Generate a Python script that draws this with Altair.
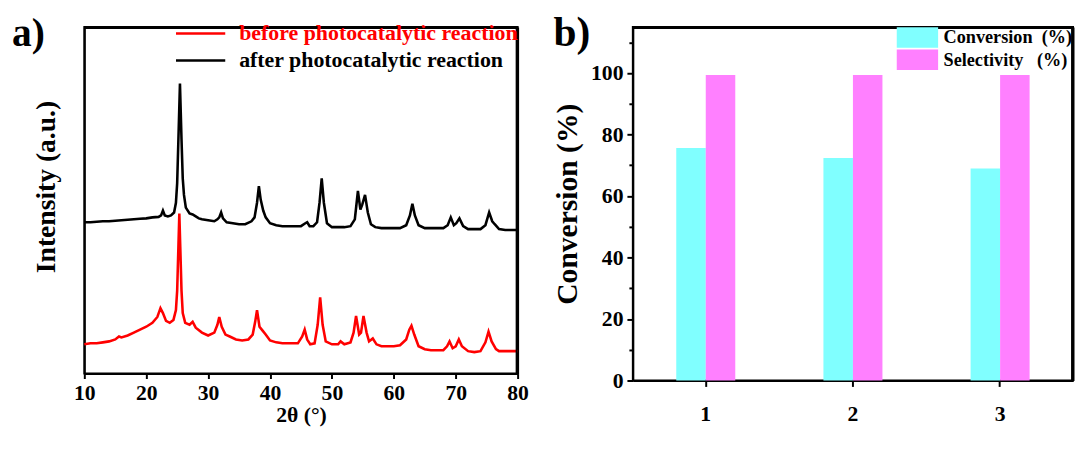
import altair as alt
import pandas as pd

FONT = "Liberation Serif"

# ---------------- panel a: XRD patterns ----------------
series_names = ["before photocatalytic reaction", "after photocatalytic reaction"]
series_colors = ["#ff0000", "#000000"]

before_theta = [10, 11, 12, 13, 14, 15, 15.6, 16, 17, 18, 19, 20, 21, 21.8, 22.3, 22.7, 23.2, 23.8,
                24.4, 24.8, 25.0, 25.2, 25.35, 25.5, 25.7, 25.9, 26.3, 27.0, 27.5, 28.0, 29.0, 30.0,
                31.0, 31.5, 31.8, 32.2, 32.8, 33.5, 34.5, 35.5, 36.5, 37.2, 37.6, 37.9, 38.3, 38.8,
                39.3, 40, 41, 42, 43, 44.5, 45.2, 45.6, 46.0, 46.5, 47.2, 47.7, 48.1, 48.5, 49.0, 50,
                51, 51.4, 52, 53, 53.5, 53.9, 54.4, 54.7, 55.1, 55.6, 56.0, 56.6, 57.2, 58, 59, 60, 61,
                62, 62.5, 62.85, 63.3, 64, 65, 66, 67, 68, 68.6, 69.0, 69.5, 70.0, 70.5, 71.0, 72, 73,
                74, 74.8, 75.3, 75.8, 76.5, 77, 78, 79, 80]
before_intensity = [30, 31, 31, 32, 33, 35, 38, 37, 39, 42, 45, 48, 52, 58, 67, 62, 54, 52,
                    55, 65, 85, 130, 164, 130, 85, 62, 52, 50, 53, 47, 42, 39,
                    42, 50, 58, 48, 40, 38, 35, 34, 35, 40, 53, 65, 48, 44,
                    40, 34, 32, 31, 31, 31, 38, 45, 35, 30, 31, 50, 78, 50, 33, 30,
                    30, 33, 30, 32, 42, 59, 40, 42, 59, 42, 33, 36, 30, 28, 28, 28, 29,
                    35, 45, 49, 40, 28, 25, 24, 24, 24, 28, 33, 26, 28, 35, 28, 23, 22,
                    23, 32, 43, 33, 25, 23, 23, 23, 23]

after_theta = [10, 11, 12, 13, 14, 15, 16, 17, 18, 19, 20, 21, 22, 22.4, 22.7, 23.0, 23.5, 24.0,
               24.5, 24.8, 25.0, 25.2, 25.45, 25.7, 25.9, 26.1, 26.4, 27.0, 27.5, 28.0, 28.5, 29.0,
               30.0, 31.0, 31.5, 31.8, 32.1, 32.4, 33, 34, 35, 36, 37, 37.5, 37.9, 38.2, 38.5, 38.9,
               39.3, 40, 41, 42, 43, 44, 45, 45.7, 46.0, 46.4, 47, 47.6, 48.0, 48.35, 48.7, 49.2,
               50, 51, 52, 53, 53.7, 54.2, 54.6, 54.9, 55.35, 55.8, 56.3, 57, 58, 59, 60, 61, 62,
               62.6, 63.0, 63.4, 64, 65, 66, 67, 68, 68.7, 69.2, 69.7, 70.1, 70.6, 71.2, 72, 73, 74,
               74.8, 75.4, 75.9, 76.3, 77, 78, 79, 80]
after_intensity = [155, 155, 155.5, 156, 156, 156.5, 157, 157.5, 158, 158.5, 159, 160, 160.5, 162, 167, 162, 161, 162,
                   165, 175, 195, 240, 297, 240, 200, 183, 170, 164, 163, 161, 159, 158,
                   157, 156, 158, 160, 165, 159, 155, 154, 153, 153, 156, 160, 175, 192, 178, 167,
                   160, 154, 152, 151, 151, 151, 151, 154, 155, 151, 151, 155, 175, 200, 175, 154,
                   150, 150, 150, 151, 158, 187, 168, 173, 183, 165, 153, 150, 149, 149, 149, 149, 152,
                   162, 174, 162, 152, 149, 149, 149, 149, 152, 160, 152, 154, 159, 151, 148, 148, 148,
                   152, 165, 156, 153, 148, 147, 147, 147]

# ---------------- panel b: conversion / selectivity ----------------
runs = ["1", "2", "3"]
conversion = [75.6, 72.4, 69.0]
selectivity = [99.4, 99.4, 99.4]
bar_names = ["Conversion", "Selectivity"]
bar_colors = ["#80ffff", "#ff80ff"]

xrd = pd.concat([
    pd.DataFrame({"theta": before_theta, "intensity": before_intensity, "sample": series_names[0]}),
    pd.DataFrame({"theta": after_theta, "intensity": after_intensity, "sample": series_names[1]}),
], ignore_index=True)

bars = pd.concat([
    pd.DataFrame({"run": runs, "value": conversion, "series": bar_names[0]}),
    pd.DataFrame({"run": runs, "value": selectivity, "series": bar_names[1]}),
], ignore_index=True)

WA, HA = 440, 352
WB, HB = 447, 359

one_row = pd.DataFrame({"k": [0]})
edge = dict(labels=False, ticks=False, title=None, domain=True, domainColor="black", domainWidth=2)


def frame_rules(w, h):
    top = alt.Chart(one_row).mark_rule(color="black", strokeWidth=2).encode(
        x=alt.value(0), x2=alt.value(w), y=alt.value(1))
    right = alt.Chart(one_row).mark_rule(color="black", strokeWidth=2).encode(
        x=alt.value(w - 1), y=alt.value(0), y2=alt.value(h))
    return [top, right]


x_a = alt.Scale(domain=[10, 80], nice=False, zero=False)
y_a = alt.Scale(domain=[0, 355], nice=False)

lines = alt.Chart(xrd).mark_line(strokeWidth=2.6).encode(
    x=alt.X("theta:Q", scale=x_a,
            axis=alt.Axis(values=list(range(10, 81, 10)), title="2θ (°)", tickSize=5, labelFlush=False,
                          labelPadding=4, labelFontSize=22, titleFontSize=22, titlePadding=2)),
    y=alt.Y("intensity:Q", scale=y_a,
            axis=alt.Axis(labels=False, ticks=False, title="Intensity (a.u.)", titleFontSize=28,
                          titlePadding=24, titleY=162)),
    color=alt.Color("sample:N",
                    scale=alt.Scale(domain=series_names, range=series_colors),
                    legend=alt.Legend(title=None, orient="none", legendX=107, legendY=-4.5,
                                      symbolType="M-5,0H5", symbolSize=100, symbolStrokeWidth=2.5,
                                      labelFont=FONT, labelFontSize=22.2, labelFontWeight="bold",
                                      labelOffset=28, rowPadding=4.5, padding=0, labelLimit=0,
                                      labelColor=alt.ExprRef(expr="datum.value == 'before photocatalytic reaction' ? '#ff0000' : '#000000'"))),
)

edges_a = alt.Chart(xrd).mark_line(opacity=0).encode(
    x=alt.X("theta:Q", scale=x_a, axis=alt.Axis(orient="top", **edge)),
    y=alt.Y("intensity:Q", scale=y_a, axis=alt.Axis(orient="right", **edge)),
)

tag_a = alt.Chart(pd.DataFrame({"tag": ["a)"]})).mark_text(
    font=FONT, fontSize=40, fontWeight="bold", align="left", baseline="alphabetic", color="black"
).encode(text="tag:N", x=alt.value(-73.5), y=alt.value(19.5))

panel_a = alt.layer(lines, edges_a, *frame_rules(WA, HA), tag_a).resolve_axis(
    x="independent", y="independent").properties(width=WA, height=HA)

x_b = alt.Scale(paddingInner=0.599, paddingOuter=0.295)
y_b = alt.Scale(domain=[0, 115], nice=False)

bar_chart = alt.Chart(bars).mark_bar().encode(
    x=alt.X("run:N", scale=x_b,
            axis=alt.Axis(title=None, labelAngle=0, tickSize=6, labelPadding=18, labelFontSize=22)),
    xOffset=alt.XOffset("series:N", scale=alt.Scale(domain=bar_names)),
    y=alt.Y("value:Q", scale=y_b,
            axis=alt.Axis(values=list(range(0, 111, 10)),
                          labelExpr="datum.value % 20 == 0 ? datum.label : ''",
                          tickSize={"condition": {"test": "datum.value % 20 == 0", "value": 6}, "value": 4},
                          labelPadding=4, labelFontSize=22,
                          title="Conversion (%)", titleFontSize=30, titlePadding=8.5)),
    color=alt.Color("series:N",
                    scale=alt.Scale(domain=bar_names, range=bar_colors),
                    legend=alt.Legend(title=None, orient="none", legendX=278.5, legendY=0.2,
                                      symbolType="M-2,-1H2V1H-2Z", symbolSize=441, symbolStrokeWidth=0,
                                      labelFont=FONT, labelFontSize=18.5, labelFontWeight="bold",
                                      labelOffset=16, rowPadding=1.6, padding=0, labelLimit=0,
                                      labelExpr="datum.label == 'Conversion' ? 'Conversion\u00a0\u00a0(%)' : 'Selectivity\u00a0\u00a0\u00a0(%)'")),
)

edges_b = alt.Chart(bars).mark_bar(opacity=0).encode(
    x=alt.X("run:N", scale=x_b, axis=alt.Axis(orient="top", **edge)),
    y=alt.Y("value:Q", scale=y_b, stack=None, axis=alt.Axis(orient="right", **edge)),
)

tag_b = alt.Chart(pd.DataFrame({"tag": ["b)"]})).mark_text(
    font=FONT, fontSize=42, fontWeight="bold", align="left", baseline="alphabetic", color="black"
).encode(text="tag:N", x=alt.value(-80.5), y=alt.value(19.7))

panel_b = alt.layer(bar_chart, edges_b, *frame_rules(WB, HB), tag_b).resolve_axis(
    x="independent", y="independent").properties(width=WB, height=HB)

chart = alt.hconcat(panel_a, panel_b, spacing=22).resolve_scale(color="independent").properties(
    padding={"left": 2.5, "top": 0, "right": 0, "bottom": 0},
    background="white"
).configure_view(
    stroke="black", strokeWidth=2
).configure_axis(
    domainColor="black", domainWidth=2, tickColor="black", tickWidth=2,
    labelColor="black", titleColor="black", grid=False,
    labelFont=FONT, titleFont=FONT, labelFontWeight="bold", titleFontWeight="bold"
)

chart.save("out.html", embed_options={"renderer": "svg", "actions": False})
